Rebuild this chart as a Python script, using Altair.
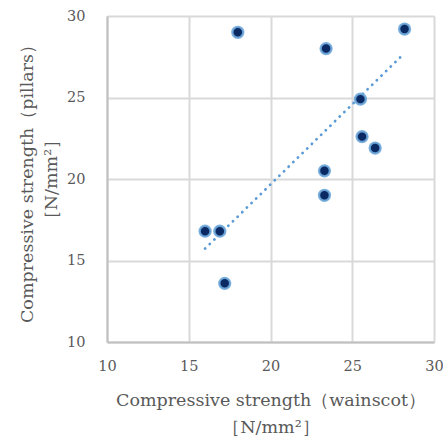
import altair as alt
import pandas as pd
import numpy as np

# data
wainscot = [18.0, 23.4, 28.2, 25.5, 25.6, 26.4, 23.3, 23.3, 16.0, 16.9, 17.2]
pillars = [29.0, 28.0, 29.2, 24.9, 22.6, 21.9, 20.5, 19.0, 16.8, 16.8, 13.6]

df = pd.DataFrame({"x": wainscot, "y": pillars})

# Excel-style linear trendline with intercept fixed at 0
xa = np.array(wainscot)
ya = np.array(pillars)
slope = float((xa * ya).sum() / (xa * xa).sum())
trend = pd.DataFrame({"x": [xa.min(), xa.max()]})
trend["y"] = slope * trend["x"]

GRAY = "#595959"
SERIF = "DejaVu Serif"

xscale = alt.Scale(domain=[10, 30], nice=False, zero=False)
yscale = alt.Scale(domain=[10, 30], nice=False, zero=False)

xaxis = alt.Axis(
    values=[10, 15, 20, 25, 30],
    title=["Compressive strength（wainscot）", "［N/mm²］"],
    grid=True, gridColor="#d9d9d9", gridWidth=2,
    domainColor="#c0c0c0", domainWidth=2,
    ticks=False, labelPadding=17, labelFlush=False,
    labelFont=SERIF, labelFontSize=14.5, labelColor=GRAY,
    titleFont=SERIF, titleFontSize=17.5, titleColor=GRAY, titleFontWeight="normal",
    titlePadding=19, titleLineHeight=27,
)
yaxis = alt.Axis(
    values=[10, 15, 20, 25, 30],
    title=["Compressive strength（pillars）", "［N/mm²］"],
    grid=True, gridColor="#d9d9d9", gridWidth=2,
    domainColor="#c0c0c0", domainWidth=2,
    ticks=False, labelPadding=22, labelFlush=False,
    labelFont=SERIF, labelFontSize=14.5, labelColor=GRAY,
    titleFont=SERIF, titleFontSize=17.5, titleColor=GRAY, titleFontWeight="normal",
    titlePadding=6, titleLineHeight=24,
)

points = alt.Chart(df).mark_point(
    filled=False, shape="circle", size=118,
    fill="#0b2a63", fillOpacity=1,
    stroke="#6fa8dc", strokeWidth=2.4, strokeOpacity=0.9,
).encode(
    x=alt.X("x:Q", scale=xscale, axis=xaxis),
    y=alt.Y("y:Q", scale=yscale, axis=yaxis),
)

line = alt.Chart(trend).mark_line(
    color="#5b9bd5", strokeWidth=2.8, strokeDash=[0.1, 6.4], strokeCap="round",
).encode(
    x=alt.X("x:Q", scale=xscale),
    y=alt.Y("y:Q", scale=yscale),
)

chart = alt.layer(line, points).properties(
    width=327, height=326,
    autosize=alt.AutoSizeParams(type="none"),
    padding={"left": 107, "top": 16, "right": 9, "bottom": 98},
).configure_view(
    stroke="#8c8c8c", strokeWidth=2,
).configure(background="white")

chart.save("out.html", embed_options={"renderer": "svg", "actions": False})
